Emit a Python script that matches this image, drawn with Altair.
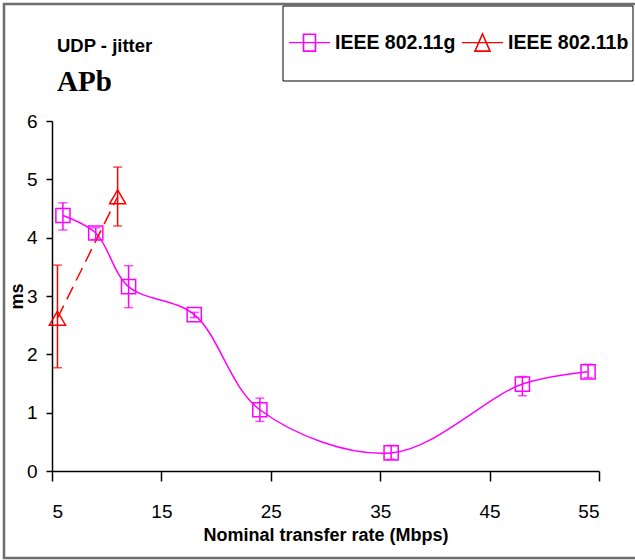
import altair as alt
import pandas as pd

# ---- data ----
series = ["IEEE 802.11g", "IEEE 802.11b"]
colors = ["#FF00FF", "#FF0000"]

g_rate = [6, 9, 12, 18, 24, 36, 48, 54]
g_jit = [4.38, 4.08, 3.16, 2.68, 1.05, 0.31, 1.49, 1.70]
g_lo = [4.13, 3.97, 2.80, 2.63, 0.85, 0.20, 1.29, 1.60]
g_hi = [4.60, 4.17, 3.52, 2.72, 1.25, 0.44, 1.62, 1.83]

b_rate = [5.5, 11]
b_jit = [2.62, 4.70]
b_lo = [1.77, 4.20]
b_hi = [3.53, 5.21]

x_ticks = [5, 15, 25, 35, 45, 55]
y_ticks = [0, 1, 2, 3, 4, 5, 6]

title_text = "UDP - jitter"
subtitle_text = "APb"
x_title = "Nominal transfer rate (Mbps)"
y_title = "ms"

SANS = "Liberation Sans, Arial, sans-serif"
SERIF = "Liberation Serif, Times New Roman, serif"

df = pd.concat([
    pd.DataFrame({"rate": g_rate, "jitter": g_jit, "lo": g_lo, "hi": g_hi, "series": series[0]}),
    pd.DataFrame({"rate": b_rate, "jitter": b_jit, "lo": b_lo, "hi": b_hi, "series": series[1]}),
], ignore_index=True)

one = pd.DataFrame({"k": [0]})

# legend glyphs: a horizontal line crossed by a hollow marker (outline drawn as a thin ring)
g_path = ("M-1,0H1"
          "M-0.3,-0.42H0.3V0.42H-0.3Z"
          "M-0.28,-0.4V0.4H0.28V-0.4Z")
b_path = ("M-1,0H1"
          "M0,-0.45L0.38,0.42H-0.38Z"
          "M0,-0.41L-0.35,0.4H0.35Z")

legend = alt.Legend(
    title=None, orient="none", direction="horizontal", legendX=236, legendY=-100,
    symbolSize=1700, labelOffset=4, columnPadding=3, labelFont=SANS, labelFontSize=19.5,
    labelFontWeight="bold", labelColor="black", labelLimit=400, padding=0,
    symbolFillColor="transparent", symbolStrokeWidth=1.2, symbolOpacity=1,
)
cscale = alt.Scale(domain=series, range=colors)
color = alt.Color("series:N", scale=cscale, legend=None)

X = alt.X("rate:Q", scale=alt.Scale(domain=[5, 55], nice=False, zero=False),
          axis=alt.Axis(values=x_ticks, title=x_title, tickSize=10, labelPadding=21,
                        titlePadding=5))
Y = alt.Y("jitter:Q", scale=alt.Scale(domain=[0, 6], nice=False),
          axis=alt.Axis(values=y_ticks, format="d", title=y_title, tickSize=6, labelPadding=9,
                        titlePadding=0))

base = alt.Chart(df)

# legend-only layer (no rows drawn) carrying the legend glyph shapes
leg_layer = base.transform_filter(alt.datum.rate < 0).mark_point(filled=False, strokeWidth=1.2).encode(
    x=X, y=Y,
    stroke=alt.Stroke("series:N", scale=alt.Scale(domain=series, range=colors), legend=legend),
    shape=alt.Shape("series:N", scale=alt.Scale(domain=series, range=[g_path, b_path]), legend=legend),
)

rules = base.mark_rule(strokeWidth=1.5).encode(x=X, y=alt.Y("lo:Q"), y2="hi:Q", color=color)
cap_lo = base.mark_tick(orient="horizontal", size=9, thickness=1.5).encode(x=X, y=alt.Y("lo:Q"), color=color)
cap_hi = base.mark_tick(orient="horizontal", size=9, thickness=1.5).encode(x=X, y=alt.Y("hi:Q"), color=color)

line_g = base.transform_filter(alt.datum.series == series[0]).mark_line(
    interpolate="catmull-rom", strokeWidth=1.5).encode(x=X, y=Y, color=color)
line_b = base.transform_filter(alt.datum.series == series[1]).mark_line(
    strokeWidth=1.5, strokeDash=[14, 7]).encode(x=X, y=Y, color=color)

pts_g = base.transform_filter(alt.datum.series == series[0]).mark_point(
    shape="square", filled=False, strokeWidth=1.5, size=200, opacity=1).encode(x=X, y=Y, color=color)
pts_b = base.transform_filter(alt.datum.series == series[1]).mark_point(
    shape="triangle-up", filled=False, strokeWidth=1.5, size=260, opacity=1).encode(x=X, y=Y, color=color)

outer = alt.Chart(one).mark_rect(fill="transparent", stroke="#6e6e6e", strokeWidth=2.5).encode(
    x=alt.value(-48), x2=alt.value(640), y=alt.value(-117), y2=alt.value(437))
legbox = alt.Chart(one).mark_rect(fill="transparent", stroke="black", strokeWidth=1).encode(
    x=alt.value(231), x2=alt.value(581), y=alt.value(-115), y2=alt.value(-40))

t1 = alt.Chart(one).mark_text(align="left", baseline="alphabetic", font=SANS, fontSize=18.5,
                              fontWeight="bold", color="black").encode(
    x=alt.value(5), y=alt.value(-69), text=alt.value(title_text))
t2 = alt.Chart(one).mark_text(align="left", baseline="alphabetic", font=SERIF, fontSize=29,
                              fontWeight="bold", color="black").encode(
    x=alt.value(5), y=alt.value(-30), text=alt.value(subtitle_text))

chart = alt.layer(outer, legbox, t1, t2, leg_layer, rules, cap_lo, cap_hi, line_g, line_b,
                  pts_g, pts_b).properties(
    width=547, height=350,
    padding={"left": 52, "top": 121, "right": 36, "bottom": 89},
    autosize="none",
).configure_view(stroke=None).configure_axis(
    grid=False, domainColor="black", domainWidth=1.5, tickColor="black", tickWidth=1.5,
    labelFont=SANS, labelFontSize=19, labelColor="black",
    titleFont=SANS, titleFontSize=18, titleFontWeight="bold", titleColor="black",
)

chart.save("out.html", embed_options={"renderer": "svg", "actions": False})
